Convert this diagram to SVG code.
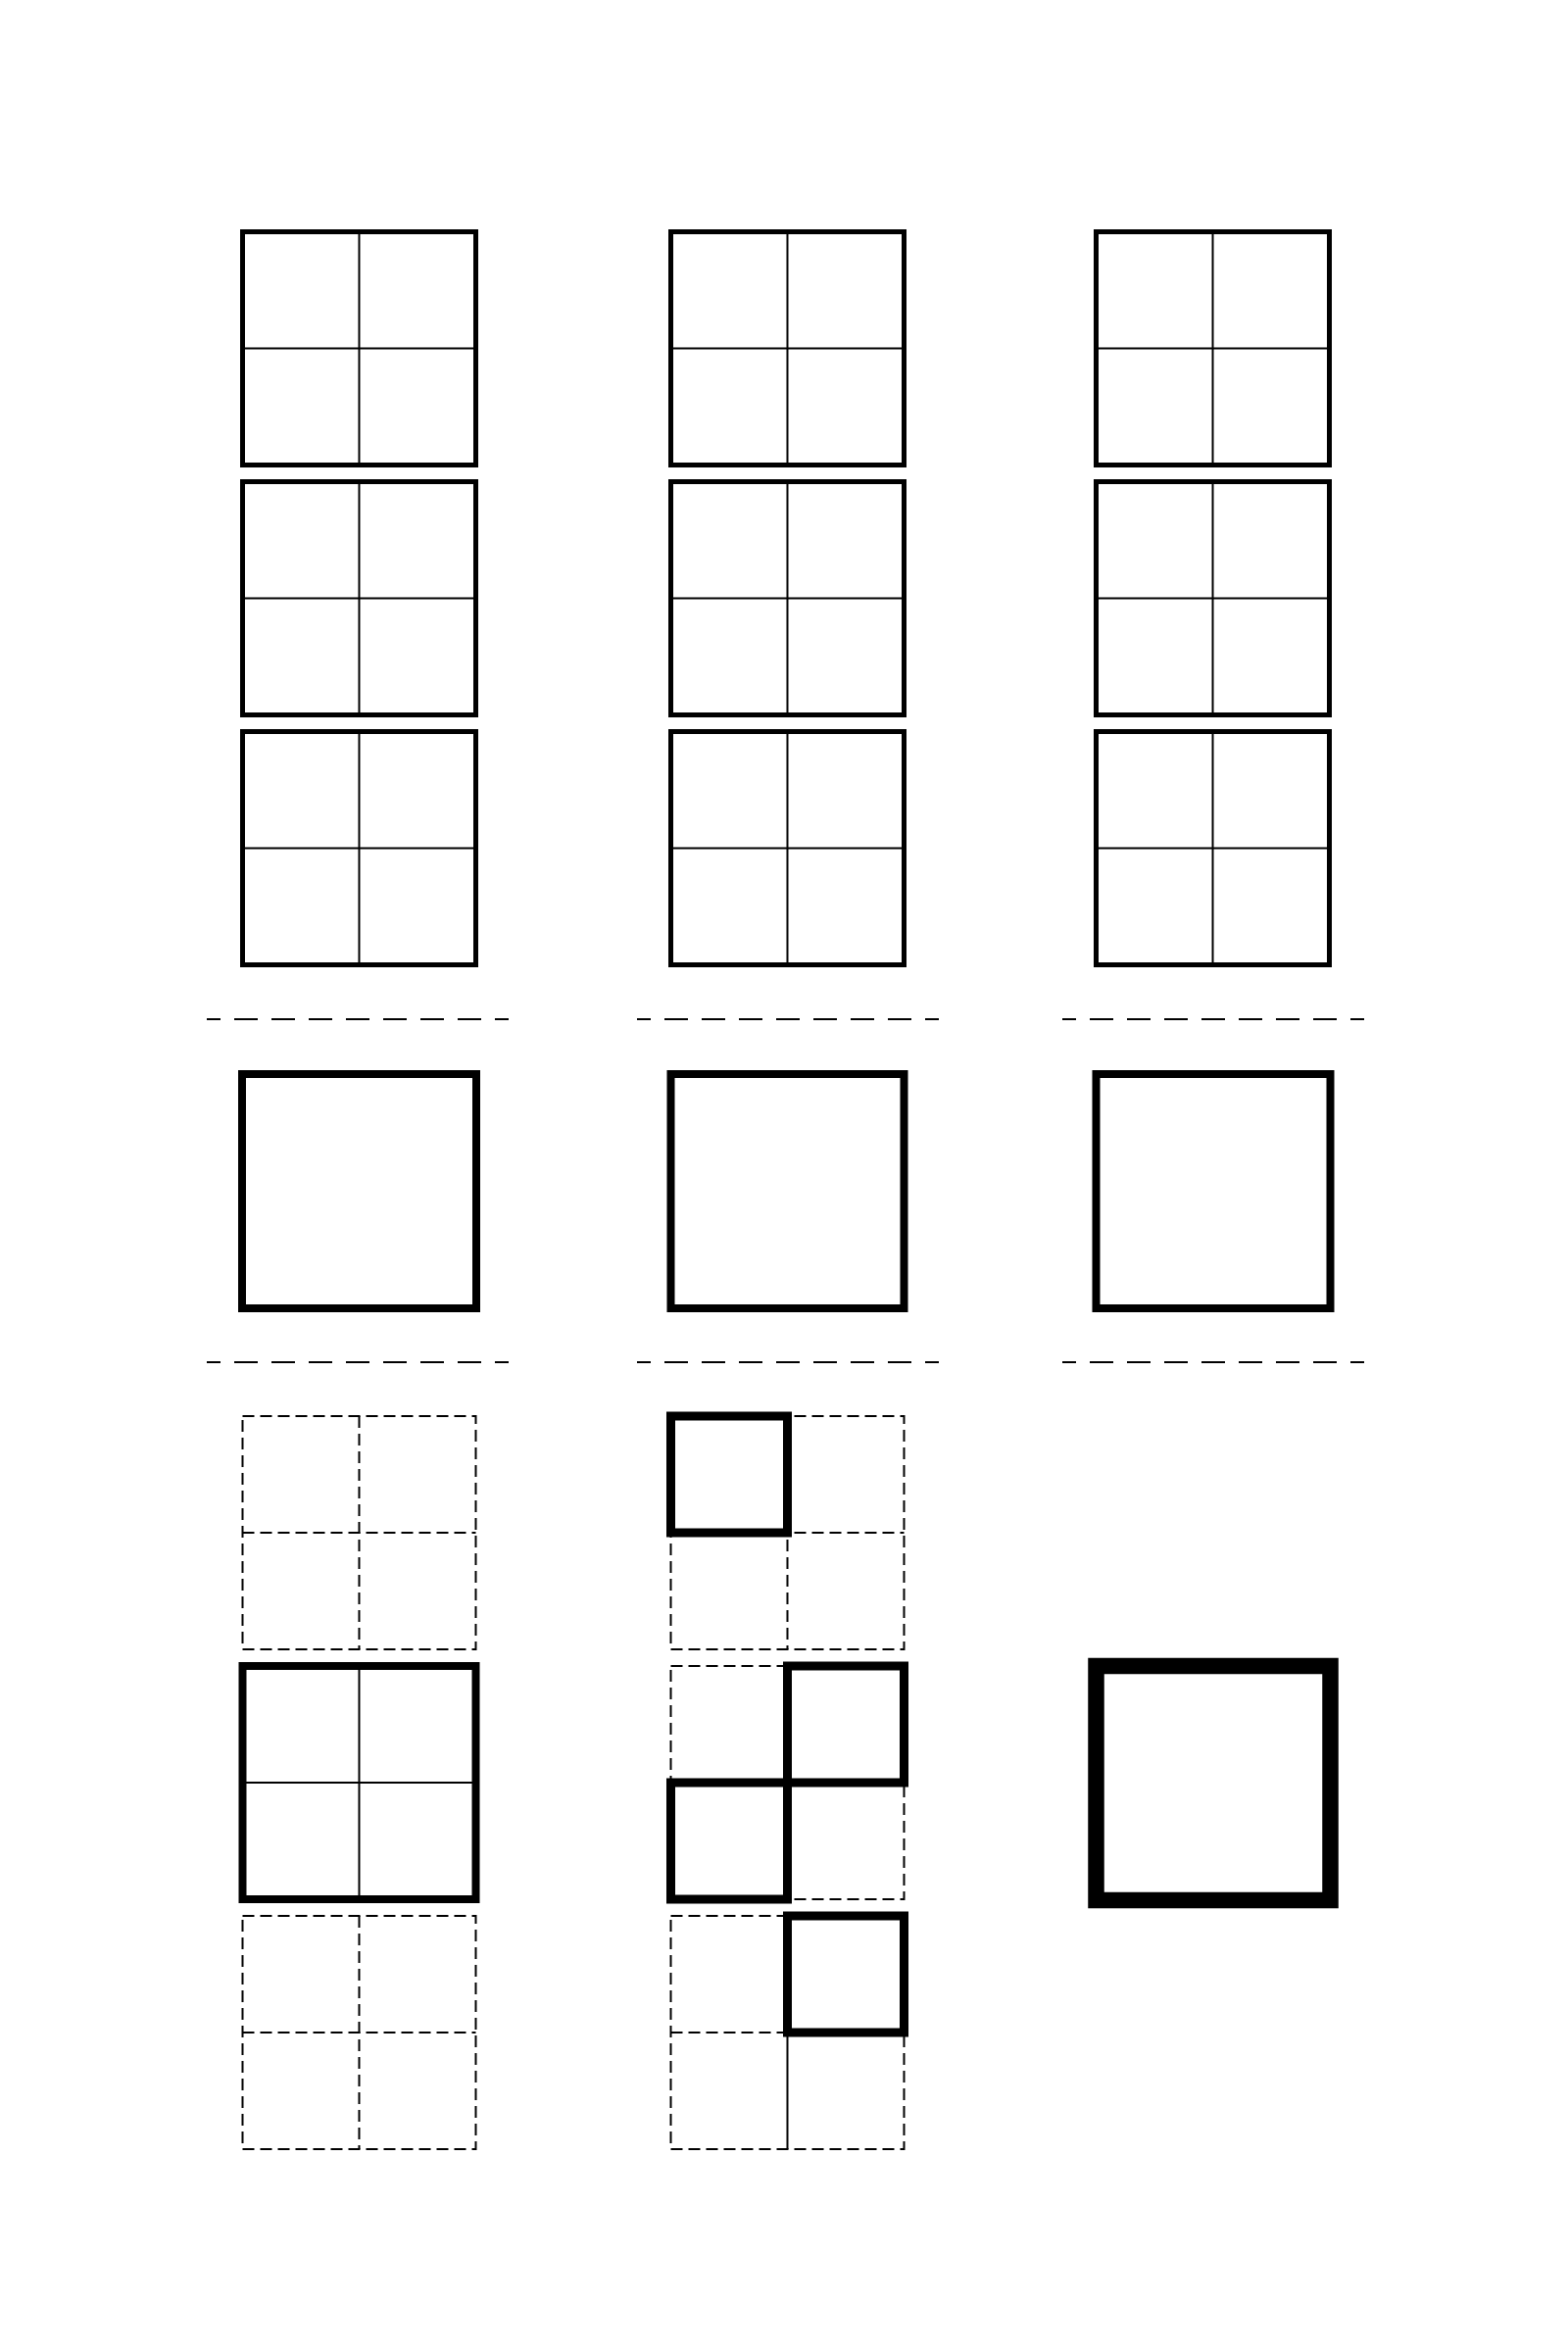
<svg xmlns="http://www.w3.org/2000/svg" width="1600" height="2400" viewBox="0 0 1600 2400">
<style>
.frame{fill:none;stroke:#000;stroke-width:5}
.div{stroke:#000;stroke-width:2;fill:none}
.dash{fill:none;stroke:#000;stroke-width:2;stroke-dasharray:12 6}
.sep{stroke:#000;stroke-width:2;stroke-dasharray:24 14;stroke-dashoffset:10;fill:none}
.bold{fill:none;stroke:#000;stroke-width:8}
.cell{fill:none;stroke:#000;stroke-width:9}
.heavy{fill:none;stroke:#000;stroke-width:16.5}
</style>
<rect width="1600" height="2400" fill="#fff"/>
<defs>
<g id="grid">
<rect class="frame" x="0" y="0" width="238" height="238"/>
<line class="div" x1="119" y1="0" x2="119" y2="238"/>
<line class="div" x1="0" y1="119" x2="238" y2="119"/>
</g>
<g id="dgrid">
<rect class="dash" x="0" y="0" width="238" height="238"/>
<line class="dash" x1="119" y1="0" x2="119" y2="238"/>
<line class="dash" x1="0" y1="119" x2="238" y2="119"/>
</g>
</defs>
<g id="col1-top">
<use href="#grid" x="247.5" y="236.5"/>
<use href="#grid" x="247.5" y="491.5"/>
<use href="#grid" x="247.5" y="746.5"/>
</g>
<g id="col2-top">
<use href="#grid" x="684.5" y="236.5"/>
<use href="#grid" x="684.5" y="491.5"/>
<use href="#grid" x="684.5" y="746.5"/>
</g>
<g id="col3-top">
<use href="#grid" x="1118.5" y="236.5"/>
<use href="#grid" x="1118.5" y="491.5"/>
<use href="#grid" x="1118.5" y="746.5"/>
</g>
<g id="connectors">
<line class="sep" x1="211" y1="1040" x2="519" y2="1040"/>
<line class="sep" x1="650" y1="1040" x2="958" y2="1040"/>
<line class="sep" x1="1084" y1="1040" x2="1392" y2="1040"/>
<line class="sep" x1="211" y1="1390" x2="519" y2="1390"/>
<line class="sep" x1="650" y1="1390" x2="958" y2="1390"/>
<line class="sep" x1="1084" y1="1390" x2="1392" y2="1390"/>
</g>
<g id="col1-mid"><rect class="bold" x="247" y="1096" width="239" height="239"/></g>
<g id="col2-mid"><rect class="bold" x="684.5" y="1096" width="238" height="239"/></g>
<g id="col3-mid"><rect class="bold" x="1118.5" y="1096" width="239" height="239"/></g>
<g id="col1-bottom">
<use href="#dgrid" x="247.5" y="1445"/>
<rect class="bold" x="247.5" y="1700" width="238" height="238"/>
<line class="div" x1="366.5" y1="1700" x2="366.5" y2="1938"/>
<line class="div" x1="247.5" y1="1819" x2="485.5" y2="1819"/>
<use href="#dgrid" x="247.5" y="1955"/>
</g>
<g id="col2-bottom">
<use href="#dgrid" x="684.5" y="1445"/>
<rect class="cell" x="684.5" y="1445" width="119" height="119"/>
<rect class="dash" x="684.5" y="1700" width="238" height="238"/>
<rect class="cell" x="803.5" y="1700" width="119" height="119"/>
<rect class="cell" x="684.5" y="1819" width="119" height="119"/>
<rect class="dash" x="684.5" y="1955" width="238" height="238"/>
<line class="dash" x1="684.5" y1="2074" x2="803.5" y2="2074"/>
<line class="div" x1="803.5" y1="2074" x2="803.5" y2="2193"/>
<rect class="cell" x="803.5" y="1955" width="119" height="119"/>
</g>
<g id="col3-bottom"><rect class="heavy" x="1118.5" y="1700" width="239" height="239"/></g>
</svg>
